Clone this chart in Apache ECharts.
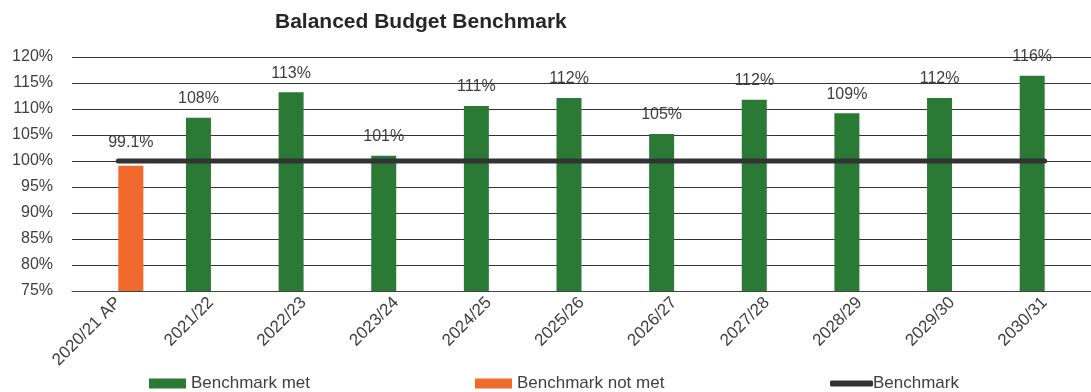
<!DOCTYPE html>
<html>
<head>
<meta charset="utf-8">
<script src="https://cdn.jsdelivr.net/npm/echarts@6/dist/echarts.min.js"></script>
<style>
html,body{margin:0;padding:0;background:#fff;}
#chart{width:1091px;height:392px;}
</style>
</head>
<body>
<div id="chart"></div>
<script>
const titleText = 'Balanced Budget Benchmark';
const categories = ['2020/21 AP','2021/22','2022/23','2023/24','2024/25','2025/26','2026/27','2027/28','2028/29','2029/30','2030/31'];
const metValues = [null, 108.3, 113.2, 101.0, 110.6, 112.1, 105.2, 111.8, 109.2, 112.1, 116.4];
const notMetValues = [99.1, null, null, null, null, null, null, null, null, null, null];
const benchmarkValues = [100, 100, 100, 100, 100, 100, 100, 100, 100, 100, 100];
const yMin = 75, yMax = 120, yStep = 5;
const seriesNames = ['Benchmark met', 'Benchmark not met', 'Benchmark'];

const FONT = 'Liberation Sans, Arial, sans-serif';
const TXT = '#404040';

function fmtLabel(p) {
  const v = p.value;
  return (v < 100 ? v.toFixed(1) : Math.round(v)) + '%';
}

const chart = echarts.init(document.getElementById('chart'), null, {renderer: 'canvas'});
chart.setOption({
  animation: false,
  backgroundColor: '#ffffff',
  textStyle: {fontFamily: FONT},
  title: {
    text: titleText,
    left: 270, top: 7,
    textStyle: {fontFamily: FONT, fontSize: 21, fontWeight: 'bold', color: '#262626'}
  },
  legend: [
    {data: [seriesNames[0]], left: 144, top: 370, itemWidth: 37, itemHeight: 10, icon: 'rect',
     textStyle: {fontFamily: FONT, fontSize: 17, color: TXT}},
    {data: [seriesNames[1]], left: 470, top: 370, itemWidth: 37, itemHeight: 10, icon: 'rect',
     textStyle: {fontFamily: FONT, fontSize: 17, color: TXT}},
    {data: [seriesNames[2]], left: 825, top: 370, itemWidth: 43, itemHeight: 6, icon: 'roundRect', itemGap: 0,
     textStyle: {fontFamily: FONT, fontSize: 17, color: TXT, padding: [0,0,0,-5]}}
  ],
  grid: {left: 72, right: -8, top: 57, bottom: 101, containLabel: false},
  xAxis: {
    type: 'category',
    data: categories,
    boundaryGap: true,
    axisLine: {show: true, lineStyle: {color: '#444', width: 1}},
    axisTick: {show: false},
    axisLabel: {rotate: 45, margin: 9, fontSize: 17, color: TXT, fontFamily: FONT, interval: 0}
  },
  yAxis: {
    type: 'value',
    min: yMin, max: yMax, interval: yStep,
    axisLine: {show: false},
    axisTick: {show: false},
    splitLine: {show: true, lineStyle: {color: '#333', width: 1}},
    axisLabel: {formatter: '{value}%', fontSize: 16, color: TXT, fontFamily: FONT, margin: 19}
  },
  series: [
    {
      name: seriesNames[0], type: 'bar', data: metValues,
      barWidth: 25, barGap: '0%',
      itemStyle: {color: '#2A7A36'},
      label: {show: true, position: 'top', distance: 11, formatter: fmtLabel,
              fontSize: 16, color: TXT, fontFamily: FONT},
      z: 2
    },
    {
      name: seriesNames[1], type: 'bar', data: notMetValues,
      barWidth: 25, barGap: '0%',
      itemStyle: {color: '#EF6A2C'},
      label: {show: true, position: 'top', distance: 15, formatter: fmtLabel,
              fontSize: 16, color: TXT, fontFamily: FONT},
      z: 2
    },
    {
      name: seriesNames[2], type: 'line', data: benchmarkValues,
      symbol: 'none', showSymbol: false,
      lineStyle: {color: '#333333', width: 5, cap: 'round'},
      itemStyle: {color: '#333333'},
      z: 3
    }
  ]
});
</script>
</body>
</html>
